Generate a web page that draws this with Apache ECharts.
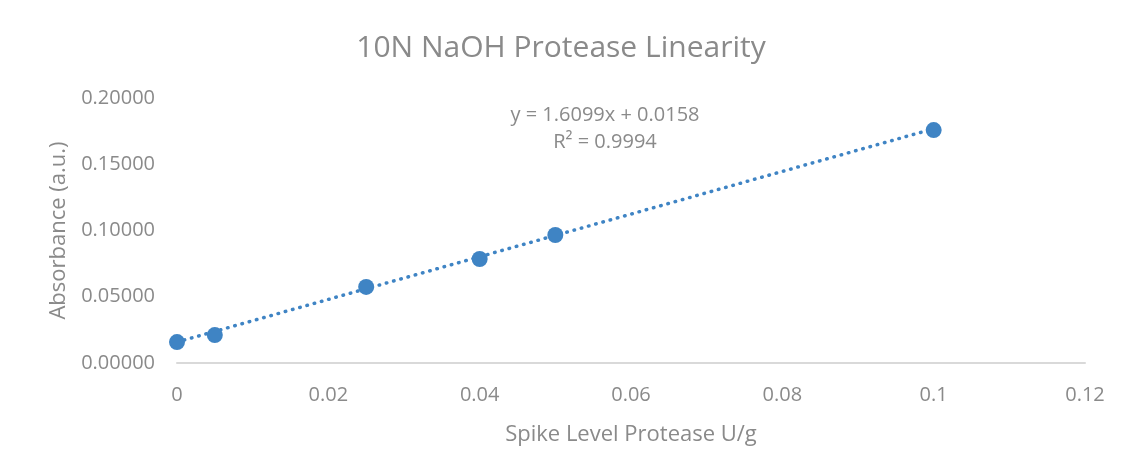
<!DOCTYPE html>
<html>
<head>
<meta charset="utf-8">
<script src="https://cdn.jsdelivr.net/npm/echarts@6/dist/echarts.min.js"></script>
<style>
  html, body { margin: 0; padding: 0; background: #fff; }
  #myChart { width: 1122px; height: 476px; }
</style>
</head>
<body>
<div id="myChart"></div>
<script>
  // spike level (U/g) and measured absorbance
  var spikeLevel = [0, 0.005, 0.025, 0.04, 0.05, 0.1];
  var absorbance = [0.0158, 0.0211, 0.0574, 0.0785, 0.0966, 0.1758];
  // linear trendline as shown on chart: y = 1.6099x + 0.0158
  var trendSlope = 1.6099;
  var trendIntercept = 0.0158;
  var trendX = [0, 0.1];

  var gray = '#8a8a8a';
  var blue = '#3f84c4';

  var points = spikeLevel.map(function (x, i) { return [x, absorbance[i]]; });
  var trend = trendX.map(function (x) { return [x, trendSlope * x + trendIntercept]; });

  var myChart = echarts.init(document.getElementById('myChart'));
  myChart.setOption({
    animation: false,
    textStyle: { fontFamily: 'Open Sans' },
    title: [
      {
        text: '10N NaOH Protease Linearity',
        left: 'center',
        top: 28,
        textStyle: { fontFamily: 'Open Sans', fontSize: 30, fontWeight: 'normal', color: gray }
      },
      {
        text: 'y = 1.6099x + 0.0158\nR² = 0.9994',
        left: 600,
        top: 97,
        textAlign: 'center',
        textStyle: { fontFamily: 'Open Sans', fontSize: 20, fontWeight: 'normal', color: gray, lineHeight: 27, align: 'center' }
      }
    ],
    grid: { left: 177, right: 37, top: 98, bottom: 113 },
    xAxis: {
      type: 'value',
      min: 0,
      max: 0.12,
      interval: 0.02,
      name: 'Spike Level Protease U/g',
      nameLocation: 'middle',
      nameGap: 61,
      nameTextStyle: { fontSize: 22, color: gray },
      axisLine: { show: true, lineStyle: { color: '#d9d9d9', width: 2 } },
      axisTick: { show: false },
      splitLine: { show: false },
      axisLabel: {
        color: gray,
        fontSize: 20,
        margin: 22,
        formatter: function (v) { return String(Math.round(v * 100) / 100); }
      }
    },
    yAxis: {
      type: 'value',
      min: 0,
      max: 0.2,
      interval: 0.05,
      name: 'Absorbance (a.u.)',
      nameLocation: 'middle',
      nameGap: 107,
      nameTextStyle: { fontSize: 22, color: gray },
      axisLine: { show: false },
      axisTick: { show: false },
      splitLine: { show: false },
      axisLabel: {
        color: gray,
        fontSize: 20,
        margin: 22,
        formatter: function (v) { return v.toFixed(5); }
      }
    },
    series: [
      {
        name: 'Trendline',
        type: 'line',
        data: trend,
        symbol: 'none',
        lineStyle: { color: blue, width: 3.5, type: [0.5, 7], cap: 'round' },
        z: 2
      },
      {
        name: 'Absorbance',
        type: 'scatter',
        data: points,
        symbolSize: 16,
        itemStyle: { color: blue, opacity: 1 },
        z: 3
      }
    ]
  });
</script>
</body>
</html>
